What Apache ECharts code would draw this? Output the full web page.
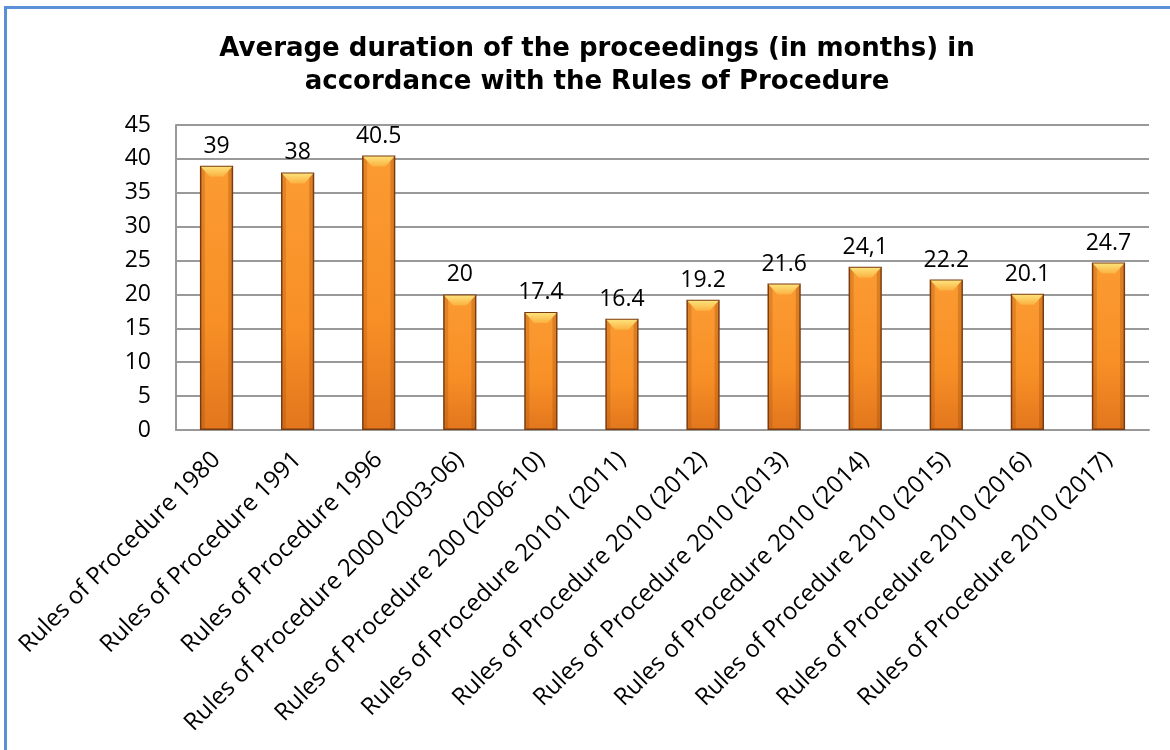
<!DOCTYPE html>
<html>
<head>
<meta charset="utf-8">
<script src="https://cdn.jsdelivr.net/npm/echarts@6/dist/echarts.min.js"></script>
<style>
html,body{margin:0;padding:0;background:#fff;}
#chart{width:1170px;height:750px;}
</style>
</head>
<body>
<div id="chart"></div>
<script>
const titleLines = ['Average duration of the proceedings (in months) in', 'accordance with the Rules of Procedure'];
const categories = [
  'Rules of Procedure 1980',
  'Rules of Procedure 1991',
  'Rules of Procedure 1996',
  'Rules of Procedure 2000 (2003-06)',
  'Rules of Procedure 200 (2006-10)',
  'Rules of Procedure 20101 (2011)',
  'Rules of Procedure 2010 (2012)',
  'Rules of Procedure 2010 (2013)',
  'Rules of Procedure 2010 (2014)',
  'Rules of Procedure 2010 (2015)',
  'Rules of Procedure 2010 (2016)',
  'Rules of Procedure 2010 (2017)'
];
const durations = [39, 38, 40.5, 20, 17.4, 16.4, 19.2, 21.6, 24.1, 22.2, 20.1, 24.7];
const valueLabels = ['39', '38', '40.5', '20', '17.4', '16.4', '19.2', '21.6', '24,1', '22.2', '20.1', '24.7'];
const yTicks = [0, 5, 10, 15, 20, 25, 30, 35, 40, 45];

const chart = echarts.init(document.getElementById('chart'), null, {renderer: 'canvas'});
const BAR_FRAC = 0.41;

const option = {
  backgroundColor: '#ffffff',
  animation: false,
  title: {
    text: titleLines.join('\n'),
    left: 592,
    textAlign: 'center',
    top: 28,
    textStyle: {
      fontFamily: 'DejaVu Sans',
      fontWeight: 'bold',
      fontSize: 26,
      lineHeight: 33,
      color: '#000'
    }
  },
  graphic: [
    {type: 'rect', left: 4, top: 6, shape: {width: 3, height: 744}, style: {fill: '#5b8fd6'}, z: 100},
    {type: 'rect', left: 4, top: 6, shape: {width: 1166, height: 3}, style: {fill: '#5b8fd6'}, z: 100}
  ],
  grid: {left: 176, right: 21, top: 125, bottom: 320, containLabel: false},
  xAxis: {
    type: 'category',
    data: categories,
    axisLine: {show: true, lineStyle: {color: '#999', width: 2}},
    axisTick: {show: false},
    axisLabel: {
      interval: 0,
      rotate: 45,
      margin: 26,
      fontFamily: 'Open Sans',
      fontSize: 24,
      color: '#000'
    }
  },
  yAxis: {
    type: 'value',
    min: yTicks[0],
    max: yTicks[yTicks.length - 1],
    interval: 5,
    axisLine: {show: true, lineStyle: {color: '#999', width: 2}},
    axisTick: {show: false},
    splitLine: {show: true, lineStyle: {color: '#999', width: 2}},
    axisLabel: {
      margin: 25,
      fontFamily: 'Open Sans',
      fontSize: 23,
      color: '#000'
    }
  },
  series: [
    {
      type: 'bar',
      data: durations,
      barWidth: (BAR_FRAC * 100) + '%',
      itemStyle: {
        color: {
          type: 'linear', x: 0, y: 0, x2: 0, y2: 1,
          colorStops: [
            {offset: 0, color: '#fb9b32'},
            {offset: 0.6, color: '#f78f26'},
            {offset: 1, color: '#e2761d'}
          ]
        },
        borderColor: '#7a3a10',
        borderWidth: 1.5
      },
      label: {
        show: true,
        position: 'top',
        distance: 8,
        fontFamily: 'Open Sans',
        fontSize: 23,
        color: '#000',
        formatter: p => valueLabels[p.dataIndex]
      },
      z: 2
    },
    {
      type: 'custom',
      data: durations.map((v, i) => [i, v]),
      z: 3,
      silent: true,
      renderItem: function (params, api) {
        const top = api.coord([api.value(0), api.value(1)]);
        const w = api.size([1, 0])[0] * BAR_FRAC;
        const x0 = top[0] - w / 2 + 1, x1 = top[0] + w / 2 - 1, y = top[1] + 1;
        const h = 10;
        const base = api.coord([0, 0])[1];
        return {
          type: 'group',
          children: [
            {
              type: 'rect',
              shape: {x: x0, y: y, width: 4, height: base - y - 1},
              style: {fill: 'rgba(150,70,10,0.25)'}
            },
            {
              type: 'rect',
              shape: {x: x1 - 4, y: y, width: 4, height: base - y - 1},
              style: {fill: 'rgba(150,70,10,0.3)'}
            },
            {
              type: 'polygon',
              shape: {points: [[x0, y], [x1, y], [x1 - 9, y + h], [x0 + 9, y + h]]},
              style: {
                fill: {
                  type: 'linear', x: 0, y: 0, x2: 0, y2: 1,
                  colorStops: [{offset: 0, color: '#fde27a'}, {offset: 1, color: '#fbb040'}]
                }
              }
            }
          ]
        };
      }
    }
  ]
};
chart.setOption(option);
</script>
</body>
</html>
